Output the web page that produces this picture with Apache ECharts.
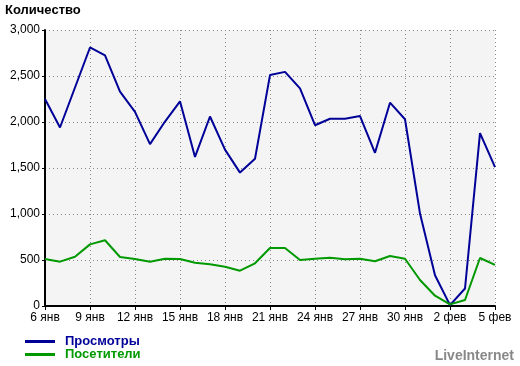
<!DOCTYPE html>
<html>
<head>
<meta charset="utf-8">
<script src="https://cdn.jsdelivr.net/npm/echarts@6/dist/echarts.min.js"></script>
<style>
html,body{margin:0;padding:0;background:#fff;}
#chart{width:520px;height:366px;}
</style>
</head>
<body>
<div id="chart"></div>
<script>
var categories = ["6 янв","7 янв","8 янв","9 янв","10 янв","11 янв","12 янв","13 янв","14 янв","15 янв",
  "16 янв","17 янв","18 янв","19 янв","20 янв","21 янв","22 янв","23 янв","24 янв","25 янв",
  "26 янв","27 янв","28 янв","29 янв","30 янв","31 янв","1 фев","2 фев","3 фев","4 фев","5 фев"];
var views = [2250,1940,2375,2810,2725,2330,2110,1760,2005,2225,
  1620,2060,1700,1450,1600,2510,2545,2365,1965,2035,
  2035,2065,1665,2210,2030,1005,335,10,190,1880,1510];
var visitors = [510,482,535,670,715,533,511,482,514,511,
  471,453,427,384,464,630,630,500,514,525,
  507,514,486,543,514,283,112,18,65,522,446];
var seriesNames = ["Просмотры","Посетители"];
var colors = ["#000099","#009900"];

var chart = echarts.init(document.getElementById('chart'), null, {renderer:'canvas'});
var font = "Liberation Sans, Arial, sans-serif";
chart.setOption({
  animation: false,
  textStyle: {fontFamily: font},
  grid: {left:45, right:25, top:30, bottom:60, show:true, backgroundColor:'#f4f4f4', borderWidth:0},
  title: {text:'Количество', left:5, top:4, padding:0, textStyle:{fontSize:13, fontWeight:'bold', color:'#000', fontFamily:font}},
  legend: {
    orient:'vertical', left:25, top:335, padding:0, itemWidth:30, itemHeight:3, itemGap:0,
    icon:'rect', height:40,
    data:[
      {name:seriesNames[0], textStyle:{color:colors[0]}},
      {name:seriesNames[1], textStyle:{color:colors[1]}}
    ],
    textStyle:{fontSize:13, fontWeight:'bold', fontFamily:font, lineHeight:12, padding:[0,0,0,5]}
  },
  graphic: [{type:'text', right:6, top:349, style:{text:'LiveInternet', fill:'#888', font:'bold 14px '+font}}],
  xAxis: {
    type:'category', data:categories, boundaryGap:false,
    axisLine:{lineStyle:{color:'#000', width:2}},
    axisTick:{interval:2, length:4, lineStyle:{color:'#000'}},
    axisLabel:{interval:2, color:'#000', fontSize:12, margin:6},
    splitLine:{show:true, interval:2, lineStyle:{color:'#888', type:[1,3], width:1}}
  },
  yAxis: {
    type:'value', min:0, max:3000, interval:500,
    axisLine:{show:true, lineStyle:{color:'#000', width:2}},
    axisTick:{show:true, length:3, lineStyle:{color:'#000'}},
    axisLabel:{color:'#000', fontSize:12, margin:5, formatter:function(v){return v.toLocaleString('en-US');}},
    splitLine:{show:true, lineStyle:{color:'#888', type:[1,3], width:1}}
  },
  series: [
    {name:seriesNames[0], type:'line', data:views, symbol:'none', lineStyle:{color:colors[0], width:2}, itemStyle:{color:colors[0]}},
    {name:seriesNames[1], type:'line', data:visitors, symbol:'none', lineStyle:{color:colors[1], width:2}, itemStyle:{color:colors[1]}}
  ]
});
</script>
</body>
</html>
